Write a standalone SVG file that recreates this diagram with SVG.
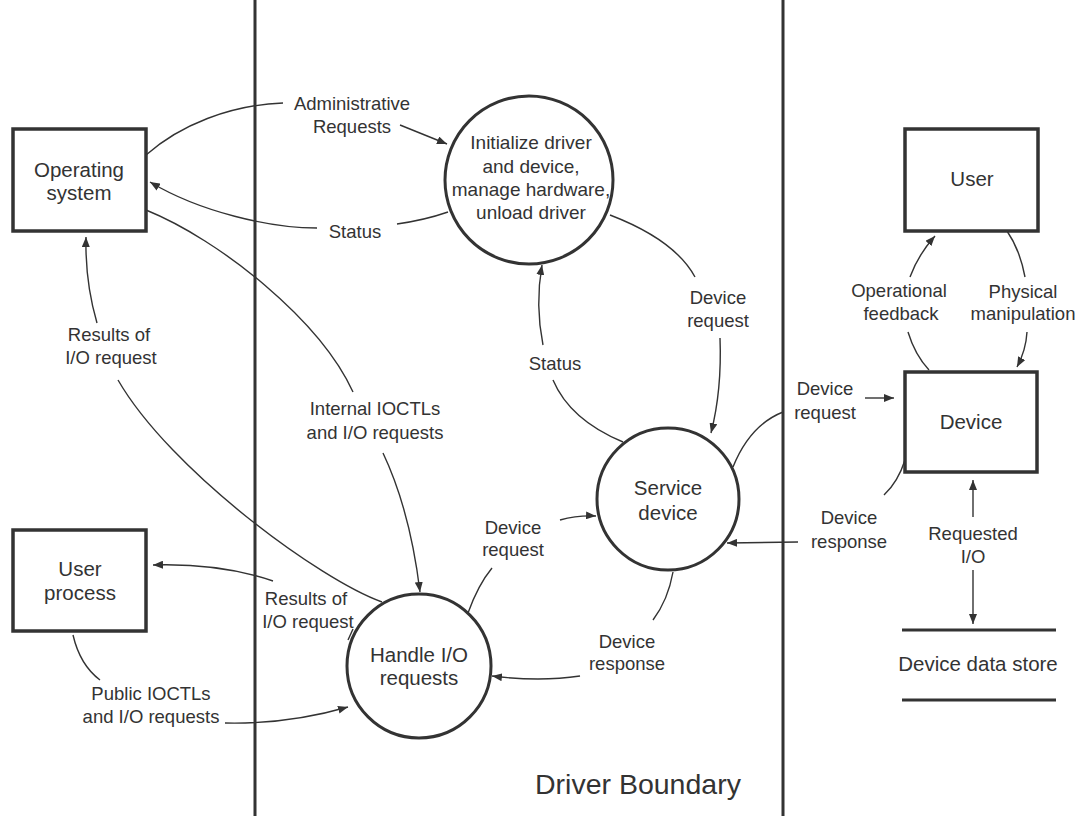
<svg xmlns="http://www.w3.org/2000/svg" width="1079" height="816" viewBox="0 0 1079 816">
<defs>
<marker id="ah" viewBox="0 0 10 8" refX="10" refY="4" markerWidth="10" markerHeight="8" markerUnits="userSpaceOnUse" orient="auto">
<path d="M0,0 L10,4 L0,8 Z" fill="#333"/>
</marker>
<style>
.box{fill:#fff;stroke:#333;stroke-width:3.5}
.proc{fill:#fff;stroke:#333;stroke-width:3}
.bnd{stroke:#333;stroke-width:3;fill:none}
.c{fill:none;stroke:#333;stroke-width:1.4}
.a{fill:none;stroke:#333;stroke-width:1.4;marker-end:url(#ah)}
text{font-family:"Liberation Sans",Arial,sans-serif;fill:#333;text-anchor:middle}
.lb{font-size:18.5px}
.nt{font-size:20.5px}
.it{font-size:19px}
.db{font-size:28.5px;text-anchor:start}
</style>
</defs>
<rect width="1079" height="816" fill="#fff"/>
<g id="boundary">
<line class="bnd" x1="255" y1="0" x2="255" y2="816"/>
<line class="bnd" x1="783" y1="0" x2="783" y2="816"/>
<text class="db" x="535" y="794">Driver Boundary</text>
</g>
<g id="connectors">
<path class="c" d="M146,155 C180,125 230,105 283,103"/>
<path class="a" d="M400,125 L447,144"/>
<path class="c" d="M448,212 Q425,220 397,224"/>
<path class="a" d="M317,228 C270,228 200,212 150,182"/>
<path class="c" d="M146,210 C220,240 320,320 353,392"/>
<path class="a" d="M383,453 Q410,510 420,592"/>
<path class="c" d="M382,602 C320,580 170,470 118,380"/>
<path class="a" d="M97,323 Q85,282 86,237"/>
<path class="c" d="M348,640 L353,629"/>
<path class="a" d="M273,581 Q220,563 153,565"/>
<path class="c" d="M73,635 Q80,665 100,680"/>
<path class="a" d="M225,723 C270,724 310,718 348,707"/>
<path class="c" d="M468,613 Q478,585 492,568"/>
<path class="a" d="M560,520 Q578,515 596,516"/>
<path class="c" d="M673,572 Q668,600 653,620"/>
<path class="a" d="M580,676 Q540,682 492,676"/>
<path class="c" d="M623,442 Q570,420 553,380"/>
<path class="a" d="M543,345 Q535,305 542,265"/>
<path class="c" d="M610,215 Q675,240 695,277"/>
<path class="a" d="M720,338 Q722,390 711,433"/>
<path class="c" d="M733,467 Q750,425 783,412"/>
<path class="a" d="M865,398 L894,398"/>
<path class="c" d="M905,460 Q898,482 884,495"/>
<path class="a" d="M798,542 L727,543"/>
<path class="c" d="M929,370 Q915,355 908,332"/>
<path class="a" d="M910,277 Q918,255 935,236"/>
<path class="c" d="M1007,231 Q1020,250 1025,277"/>
<path class="a" d="M1027,332 Q1026,350 1017,367"/>
<path class="a" d="M973,517 L973,480"/>
<path class="a" d="M973,570 L973,624"/>
</g>
<g id="labels">
<text class="lb" x="352" y="110">Administrative</text>
<text class="lb" x="352" y="133">Requests</text>
<text class="lb" x="355" y="238">Status</text>
<text class="lb" x="375" y="415">Internal IOCTLs</text>
<text class="lb" x="375" y="439">and I/O requests</text>
<text class="lb" x="109" y="341">Results of</text>
<text class="lb" x="111" y="364">I/O request</text>
<text class="lb" x="306" y="605">Results of</text>
<text class="lb" x="308" y="628">I/O request</text>
<text class="lb" x="151" y="700">Public IOCTLs</text>
<text class="lb" x="151" y="723">and I/O requests</text>
<text class="lb" x="513" y="534">Device</text>
<text class="lb" x="513" y="556">request</text>
<text class="lb" x="627" y="648">Device</text>
<text class="lb" x="627" y="670">response</text>
<text class="lb" x="555" y="370">Status</text>
<text class="lb" x="718" y="304">Device</text>
<text class="lb" x="718" y="327">request</text>
<text class="lb" x="825" y="395">Device</text>
<text class="lb" x="825" y="419">request</text>
<text class="lb" x="849" y="524">Device</text>
<text class="lb" x="849" y="548">response</text>
<text class="lb" x="899" y="297">Operational</text>
<text class="lb" x="901" y="320">feedback</text>
<text class="lb" x="1023" y="298">Physical</text>
<text class="lb" x="1023" y="320">manipulation</text>
<text class="lb" x="973" y="540">Requested</text>
<text class="lb" x="973" y="563">I/O</text>
</g>
<g id="operating-system">
<rect class="box" x="13" y="129" width="133" height="102"/>
<text class="nt" x="79" y="177">Operating</text>
<text class="nt" x="79" y="200">system</text>
</g>
<g id="user-process">
<rect class="box" x="13" y="530" width="133" height="101"/>
<text class="nt" x="80" y="576">User</text>
<text class="nt" x="80" y="600">process</text>
</g>
<g id="user">
<rect class="box" x="905" y="129" width="133" height="102"/>
<text class="nt" x="972" y="186">User</text>
</g>
<g id="device">
<rect class="box" x="905" y="372" width="132" height="100"/>
<text class="nt" x="971" y="429">Device</text>
</g>
<g id="init-driver">
<circle class="proc" cx="529" cy="180" r="84"/>
<text class="it" x="531" y="149">Initialize driver</text>
<text class="it" x="531" y="173">and device,</text>
<text class="it" x="531" y="196">manage hardware,</text>
<text class="it" x="531" y="219">unload driver</text>
</g>
<g id="service-device">
<circle class="proc" cx="668" cy="499" r="71"/>
<text class="nt" x="668" y="495">Service</text>
<text class="nt" x="668" y="520">device</text>
</g>
<g id="handle-io">
<circle class="proc" cx="419" cy="666" r="72"/>
<text class="nt" x="419" y="662">Handle I/O</text>
<text class="nt" x="419" y="685">requests</text>
</g>
<g id="device-data-store">
<line class="bnd" x1="902" y1="630" x2="1056" y2="630" stroke-width="3.5"/>
<line class="bnd" x1="902" y1="700" x2="1056" y2="700" stroke-width="3.5"/>
<text class="nt" x="978" y="671">Device data store</text>
</g>
</svg>
